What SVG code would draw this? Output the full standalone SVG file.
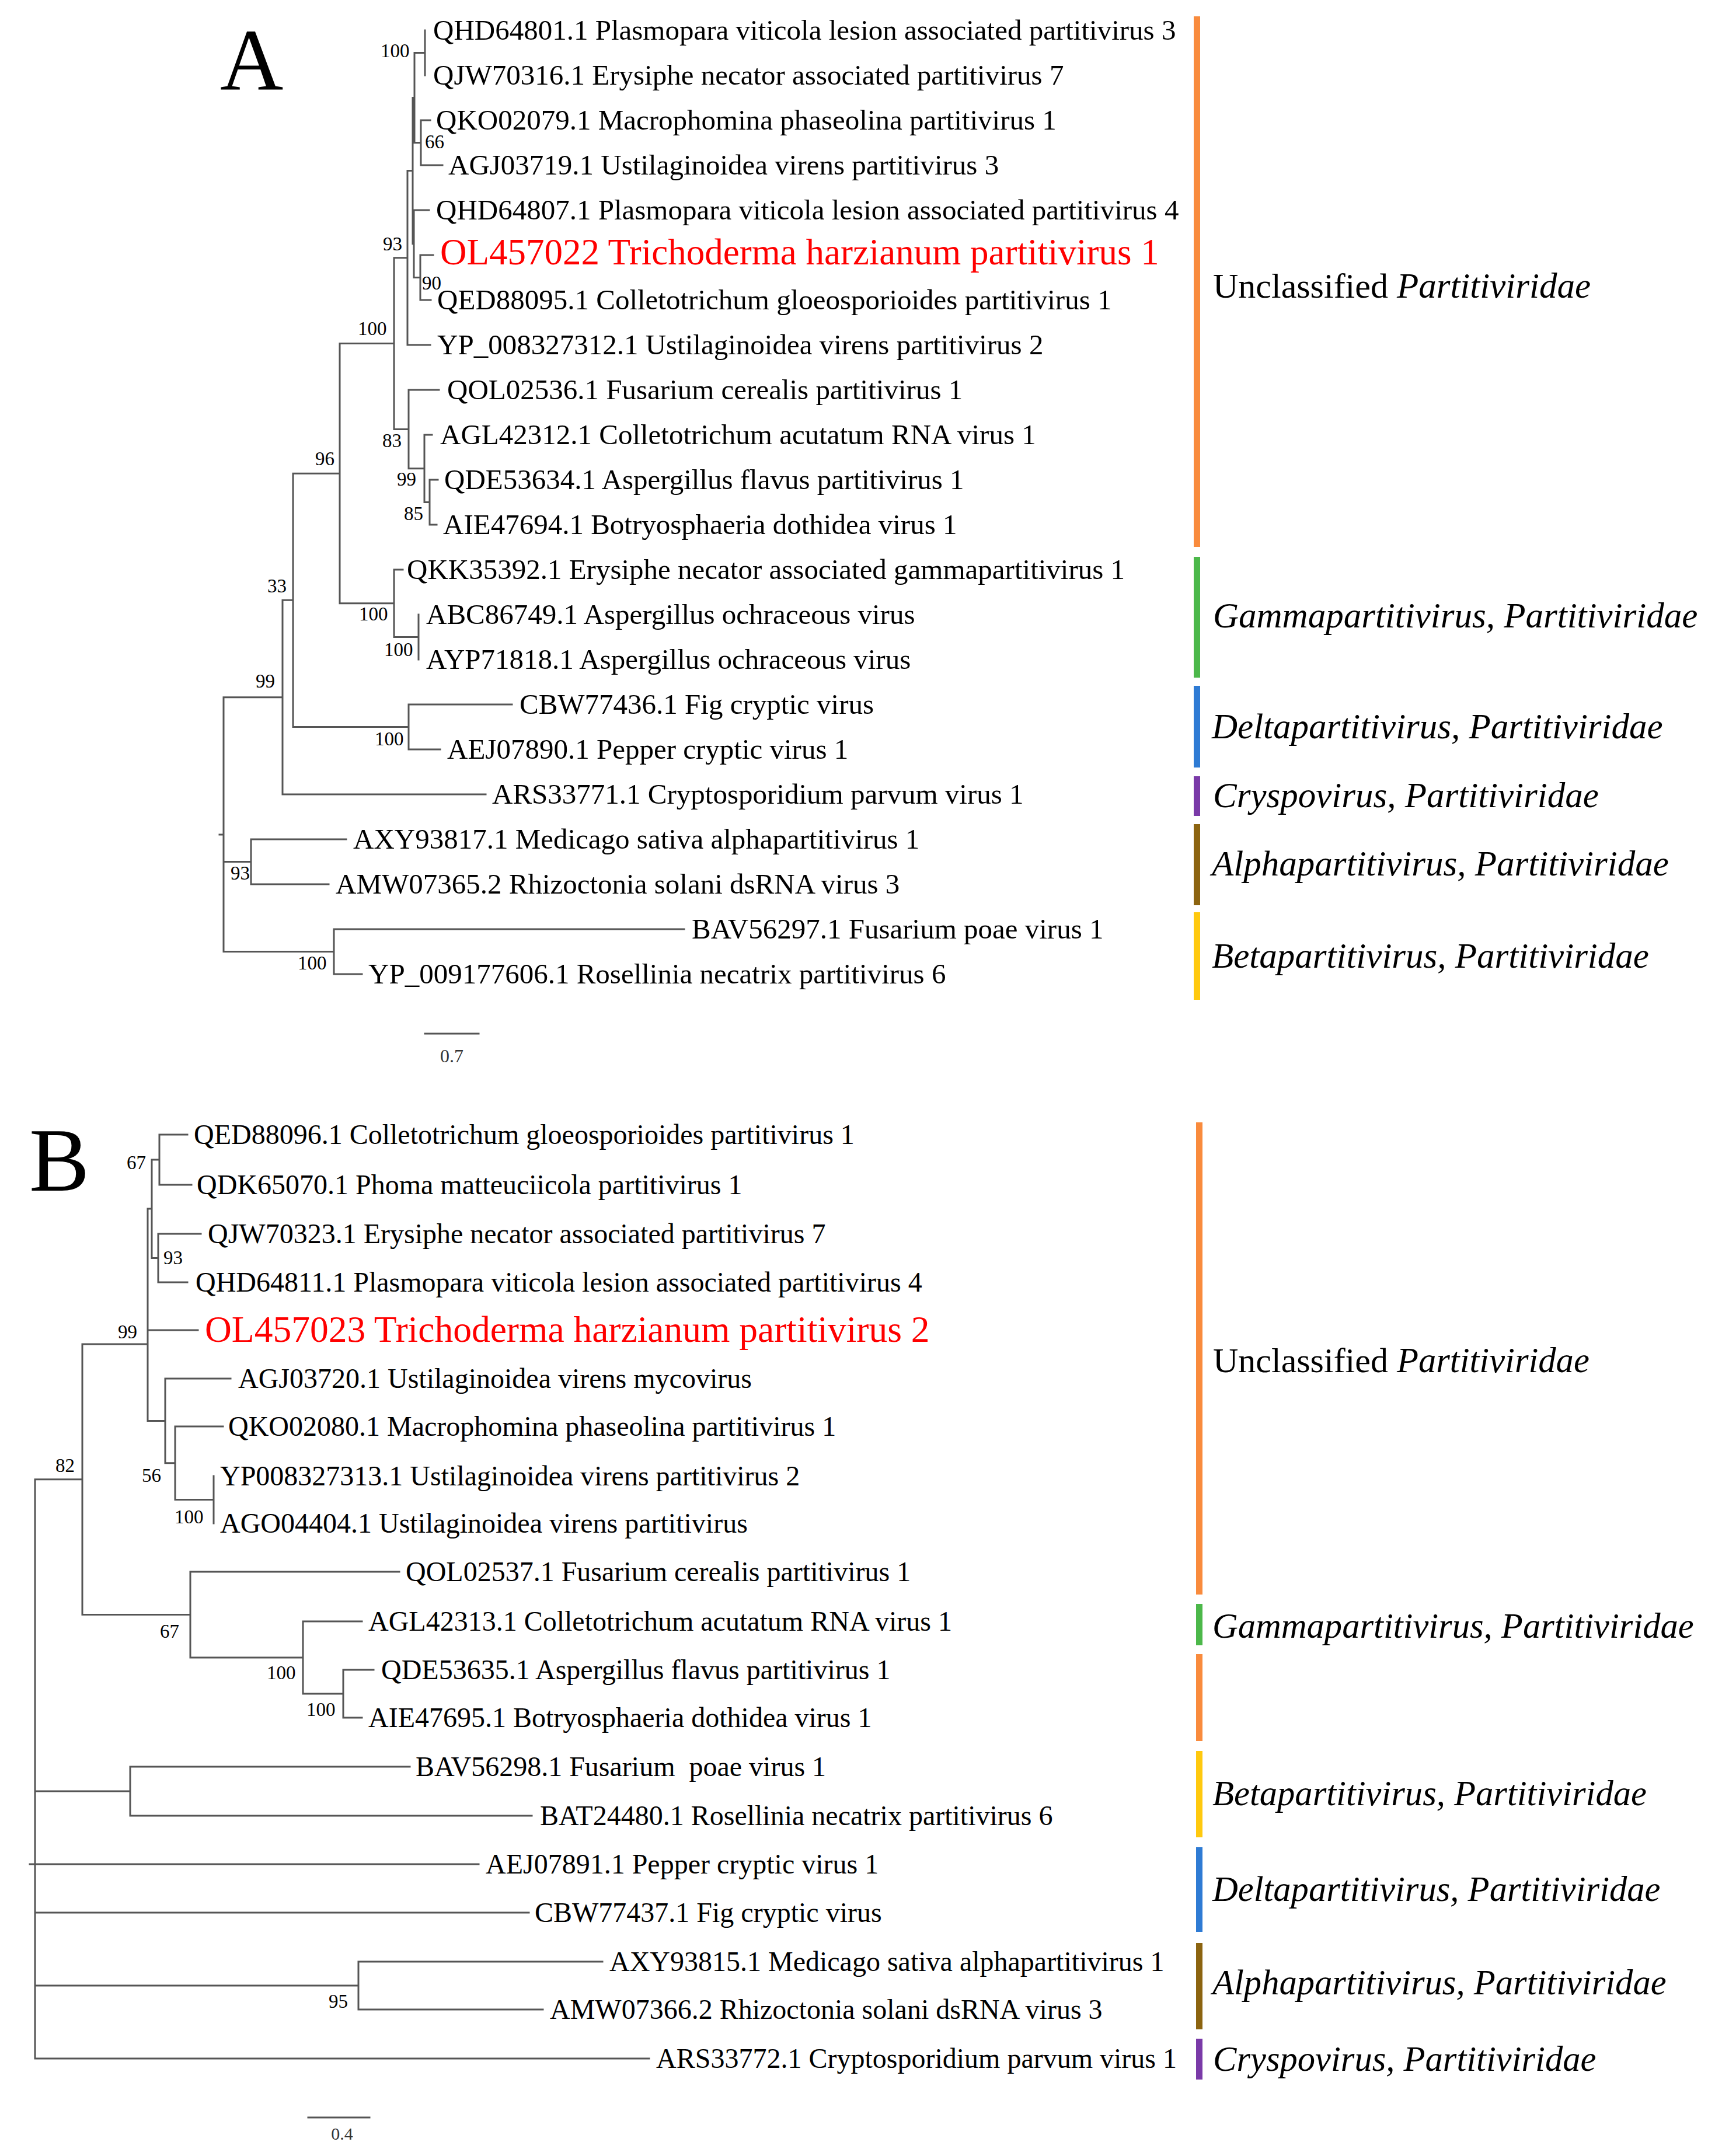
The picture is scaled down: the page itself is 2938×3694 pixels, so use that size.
<svg xmlns="http://www.w3.org/2000/svg" width="2938" height="3694" viewBox="0 0 2938 3694">
<style>
text{font-family:"Liberation Serif","Times New Roman",serif;fill:#000}
.t{font-size:48px}
.ta{font-size:49px}
.r{font-size:63px;fill:#ff0000}
.bs{font-size:33px;fill:#333}
.cl{font-size:60px}
.i{font-style:italic;font-size:61px}
.ib{font-style:italic;font-size:60.6px}
.big{font-size:150px}
.sc{font-size:32px;fill:#333}
.br{fill:none;stroke:#555;stroke-width:3;stroke-linecap:square}
.bar{stroke:none}
</style>
<rect width="2938" height="3694" fill="#fff"/>

<!-- ================= TREE A ================= -->
<text id="panelA" class="big" x="377" y="153">A</text>
<g id="A-connectors" class="br">
<path d="M383 1194.7V1630.5M376 1430H383M383 1194.7H484M484 1028.3V1361M484 1361H832M484 1028.3H502M502 811.2V1245.5M502 1245.5H700M700 1207V1284M700 1207H877M700 1284H754M502 811.2H582M582 588.6V1033.75M582 1033.75H675M675 976V1091.5M675 976H690M675 1091.5H717M717 1053V1130M582 588.6H675M675 441.8V735.4M675 441.8H698M698 292.6V591M698 591H737M698 292.6H707M707 167.5V417.75M707 167.5H710M710 90.5V244.5M710 90.5H728M728 52V129M710 244.5H721M721 206V283M721 206H737M721 283H758M707 417.75H709M709 360V475.5M709 360H735M709 475.5H720M720 437V514M720 437H742M720 514H738M675 735.4H700M700 668V802.75M700 668H752M700 802.75H727M727 745V860.5M727 745H740M727 860.5H736M736 822V899M736 822H750M736 899H748M383 1476.5H430M430 1438V1515M430 1438H593M430 1515H563M383 1630.5H572M572 1592V1669M572 1592H1172M572 1669H620"/>
</g>
<g id="A-leaves" class="ta">
<g id="A-QHD64801"><text x="742" y="68">QHD64801.1 Plasmopara viticola lesion associated partitivirus 3</text></g>
<g id="A-QJW70316"><text x="742" y="145">QJW70316.1 Erysiphe necator associated partitivirus 7</text></g>
<g id="A-QKO02079"><text x="747" y="222">QKO02079.1 Macrophomina phaseolina partitivirus 1</text></g>
<g id="A-AGJ03719"><text x="768" y="299">AGJ03719.1 Ustilaginoidea virens partitivirus 3</text></g>
<g id="A-QHD64807"><text x="747" y="376">QHD64807.1 Plasmopara viticola lesion associated partitivirus 4</text></g>
<g id="A-OL457022"><text class="r" x="754" y="453">OL457022 Trichoderma harzianum partitivirus 1</text></g>
<g id="A-QED88095"><text x="749" y="530">QED88095.1 Colletotrichum gloeosporioides partitivirus 1</text></g>
<g id="A-YP008327312"><text x="749" y="607">YP_008327312.1 Ustilaginoidea virens partitivirus 2</text></g>
<g id="A-QOL02536"><text x="766" y="684">QOL02536.1 Fusarium cerealis partitivirus 1</text></g>
<g id="A-AGL42312"><text x="754" y="761">AGL42312.1 Colletotrichum acutatum RNA virus 1</text></g>
<g id="A-QDE53634"><text x="761" y="838">QDE53634.1 Aspergillus flavus partitivirus 1</text></g>
<g id="A-AIE47694"><text x="759" y="915">AIE47694.1 Botryosphaeria dothidea virus 1</text></g>
<g id="A-QKK35392"><text x="697" y="992">QKK35392.1 Erysiphe necator associated gammapartitivirus 1</text></g>
<g id="A-ABC86749"><text x="730" y="1069">ABC86749.1 Aspergillus ochraceous virus</text></g>
<g id="A-AYP71818"><text x="730" y="1146">AYP71818.1 Aspergillus ochraceous virus</text></g>
<g id="A-CBW77436"><text x="890" y="1223">CBW77436.1 Fig cryptic virus</text></g>
<g id="A-AEJ07890"><text x="766" y="1300">AEJ07890.1 Pepper cryptic virus 1</text></g>
<g id="A-ARS33771"><text x="843" y="1377">ARS33771.1 Cryptosporidium parvum virus 1</text></g>
<g id="A-AXY93817"><text x="605" y="1454">AXY93817.1 Medicago sativa alphapartitivirus 1</text></g>
<g id="A-AMW07365"><text x="575" y="1531">AMW07365.2 Rhizoctonia solani dsRNA virus 3</text></g>
<g id="A-BAV56297"><text x="1185" y="1608">BAV56297.1 Fusarium poae virus 1</text></g>
<g id="A-YP009177606"><text x="631" y="1685">YP_009177606.1 Rosellinia necatrix partitivirus 6</text></g>
</g>
<g id="A-bootstrap" class="bs">
<g id="A-n1"><text x="652" y="98">100</text></g>
<g id="A-n2"><text x="728" y="254">66</text></g>
<g id="A-n3"><text x="656" y="429">93</text></g>
<g id="A-n4"><text x="723" y="496">90</text></g>
<g id="A-n5"><text x="613" y="574">100</text></g>
<g id="A-n6"><text x="540" y="797">96</text></g>
<g id="A-n7"><text x="655" y="766">83</text></g>
<g id="A-n8"><text x="680" y="832">99</text></g>
<g id="A-n9"><text x="692" y="891">85</text></g>
<g id="A-n10"><text x="458" y="1015">33</text></g>
<g id="A-n11"><text x="615" y="1063">100</text></g>
<g id="A-n12"><text x="658" y="1124">100</text></g>
<g id="A-n13"><text x="438" y="1178">99</text></g>
<g id="A-n14"><text x="642" y="1277">100</text></g>
<g id="A-n15"><text x="395" y="1507">93</text></g>
<g id="A-n16"><text x="510" y="1661">100</text></g>
</g>
<g id="A-scale">
<path class="br" d="M728 1771H820"/>
<text class="sc" x="774" y="1820" text-anchor="middle">0.7</text>
</g>
<g id="A-clades" class="cl">
<g id="A-unclassified"><rect class="bar" x="2045" y="28" width="11" height="909" fill="#F98B3D"/><text x="2078" y="510">Unclassified <tspan class="i">Partitiviridae</tspan></text></g>
<g id="A-gamma"><rect class="bar" x="2045" y="954" width="11" height="207" fill="#4CB84A"/><text class="i" x="2078" y="1075">Gammapartitivirus, Partitiviridae</text></g>
<g id="A-delta"><rect class="bar" x="2045" y="1175" width="11" height="140" fill="#2E7BD4"/><text class="i" x="2076" y="1265">Deltapartitivirus, Partitiviridae</text></g>
<g id="A-cryspo"><rect class="bar" x="2045" y="1330" width="11" height="68" fill="#7A3AA8"/><text class="i" x="2078" y="1383">Cryspovirus, Partitiviridae</text></g>
<g id="A-alpha"><rect class="bar" x="2045" y="1412" width="11" height="139" fill="#8C6410"/><text class="i" x="2076" y="1500">Alphapartitivirus, Partitiviridae</text></g>
<g id="A-beta"><rect class="bar" x="2045" y="1563" width="11" height="150" fill="#FFC90E"/><text class="i" x="2076" y="1658">Betapartitivirus, Partitiviridae</text></g>
</g>

<!-- ================= TREE B ================= -->
<text id="panelB" class="big" x="50" y="2040" style="font-size:155px">B</text>
<g id="B-connectors" class="br">
<path d="M60 2534.75V3527M51 3194H60M60 2534.75H141M141 2303V2766.5M141 2303H253M253 2071V2434.4M253 2071H260M260 1987V2155.5M260 1987H273M273 1944V2030M273 1944H321M273 2030H328M260 2155.5H271M271 2114V2197M271 2114H344M271 2197H321M253 2279H339M253 2434.4H283M283 2362V2506.75M283 2362H395M283 2506.75H300M300 2444V2569.5M300 2444H382M300 2569.5H366M366 2529V2610M141 2766.5H326M326 2693V2840M326 2693H684M326 2840H519M519 2778V2902M519 2778H620M519 2902H588M588 2861V2943M588 2861H640M588 2943H620M60 3069H223M223 3027V3111M223 3027H702M223 3111H911M60 3194H820M60 3277H906M60 3402H614M614 3361V3443M614 3361H1032M614 3443H930M60 3527H1112"/>
</g>
<g id="B-leaves" class="t">
<g id="B-QED88096"><text x="332" y="1960">QED88096.1 Colletotrichum gloeosporioides partitivirus 1</text></g>
<g id="B-QDK65070"><text x="337" y="2046">QDK65070.1 Phoma matteuciicola partitivirus 1</text></g>
<g id="B-QJW70323"><text x="356" y="2130">QJW70323.1 Erysiphe necator associated partitivirus 7</text></g>
<g id="B-QHD64811"><text x="335" y="2213">QHD64811.1 Plasmopara viticola lesion associated partitivirus 4</text></g>
<g id="B-OL457023"><text class="r" x="351" y="2299" style="font-size:63.5px">OL457023 Trichoderma harzianum partitivirus 2</text></g>
<g id="B-AGJ03720"><text x="408" y="2378">AGJ03720.1 Ustilaginoidea virens mycovirus</text></g>
<g id="B-QKO02080"><text x="391" y="2460">QKO02080.1 Macrophomina phaseolina partitivirus 1</text></g>
<g id="B-YP008327313"><text x="377" y="2545">YP008327313.1 Ustilaginoidea virens partitivirus 2</text></g>
<g id="B-AGO04404"><text x="377" y="2626">AGO04404.1 Ustilaginoidea virens partitivirus</text></g>
<g id="B-QOL02537"><text x="695" y="2709">QOL02537.1 Fusarium cerealis partitivirus 1</text></g>
<g id="B-AGL42313"><text x="631" y="2794">AGL42313.1 Colletotrichum acutatum RNA virus 1</text></g>
<g id="B-QDE53635"><text x="653" y="2877">QDE53635.1 Aspergillus flavus partitivirus 1</text></g>
<g id="B-AIE47695"><text x="631" y="2959">AIE47695.1 Botryosphaeria dothidea virus 1</text></g>
<g id="B-BAV56298"><text x="712" y="3043" xml:space="preserve">BAV56298.1 Fusarium  poae virus 1</text></g>
<g id="B-BAT24480"><text x="925" y="3127">BAT24480.1 Rosellinia necatrix partitivirus 6</text></g>
<g id="B-AEJ07891"><text x="832" y="3210">AEJ07891.1 Pepper cryptic virus 1</text></g>
<g id="B-CBW77437"><text x="916" y="3293">CBW77437.1 Fig cryptic virus</text></g>
<g id="B-AXY93815"><text x="1044" y="3377">AXY93815.1 Medicago sativa alphapartitivirus 1</text></g>
<g id="B-AMW07366"><text x="942" y="3459">AMW07366.2 Rhizoctonia solani dsRNA virus 3</text></g>
<g id="B-ARS33772"><text x="1124" y="3543">ARS33772.1 Cryptosporidium parvum virus 1</text></g>
</g>
<g id="B-bootstrap" class="bs">
<g id="B-n1"><text x="217" y="2003">67</text></g>
<g id="B-n2"><text x="280" y="2166">93</text></g>
<g id="B-n3"><text x="202" y="2293">99</text></g>
<g id="B-n4"><text x="243" y="2539">56</text></g>
<g id="B-n5"><text x="299" y="2610">100</text></g>
<g id="B-n6"><text x="95" y="2522">82</text></g>
<g id="B-n7"><text x="274" y="2806">67</text></g>
<g id="B-n8"><text x="457" y="2877">100</text></g>
<g id="B-n9"><text x="525" y="2940">100</text></g>
<g id="B-n10"><text x="563" y="3440">95</text></g>
</g>
<g id="B-scale">
<path class="br" d="M528 3628H633"/>
<text class="sc" x="586" y="3666" text-anchor="middle" style="font-size:30px">0.4</text>
</g>
<g id="B-clades" class="cl">
<g id="B-unclassified"><rect class="bar" x="2049" y="1923" width="11" height="809" fill="#F98B3D"/><text x="2078" y="2351">Unclassified <tspan class="ib">Partitiviridae</tspan></text></g>
<g id="B-gamma"><rect class="bar" x="2049" y="2748" width="11" height="71" fill="#4CB84A"/><text class="ib" x="2077" y="2806">Gammapartitivirus, Partitiviridae</text></g>
<g id="B-unclassified2"><rect class="bar" x="2049" y="2834" width="11" height="149" fill="#F98B3D"/></g>
<g id="B-beta"><rect class="bar" x="2049" y="3000" width="11" height="148" fill="#FFC90E"/><text class="ib" x="2077" y="3093">Betapartitivirus, Partitiviridae</text></g>
<g id="B-delta"><rect class="bar" x="2049" y="3165" width="11" height="145" fill="#2E7BD4"/><text class="ib" x="2077" y="3257">Deltapartitivirus, Partitiviridae</text></g>
<g id="B-alpha"><rect class="bar" x="2049" y="3329" width="11" height="148" fill="#8C6410"/><text class="ib" x="2077" y="3417">Alphapartitivirus, Partitiviridae</text></g>
<g id="B-cryspo"><rect class="bar" x="2049" y="3493" width="11" height="70" fill="#7A3AA8"/><text class="ib" x="2078" y="3548">Cryspovirus, Partitiviridae</text></g>
</g>
</svg>
